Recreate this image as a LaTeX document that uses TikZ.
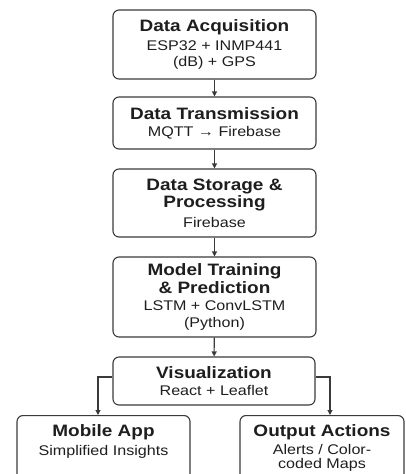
\documentclass[tikz,border=0pt]{standalone}
\usepackage{fontspec}
\setmainfont{Liberation Sans}[FakeStretch=1.15]
\usetikzlibrary{arrows.meta,positioning}
\definecolor{ink}{HTML}{1E1E1E}
\definecolor{edge}{HTML}{3A3A3A}
\newcommand{\ttl}{\fontsize{16.5}{18}\selectfont\bfseries}
\newcommand{\sbt}{\fontsize{14}{16}\selectfont\mdseries}
\begin{document}
\begin{tikzpicture}[x=1pt,y=-1pt,
  box/.style={draw=edge,line width=1.1pt,rounded corners=6pt,fill=white,
    text=ink,align=center,inner sep=0pt,minimum width=203pt},
  arr/.style={draw=edge,line width=1.1pt,-{Triangle[length=5pt,width=5pt]}}]
\useasboundingbox (0,0) rectangle (406,474);
\clip (0,0) rectangle (406,474);
\node[box,minimum height=69pt] (b1) at (214.5,44.5)
  {\ttl Data Acquisition\\[5pt] \sbt ESP32 + INMP441\\[4pt] \sbt (dB) + GPS};
\node[box,minimum height=52pt] (b2) at (214.5,123)
  {\ttl Data Transmission\\[5pt] \sbt MQTT → Firebase};
\node[box,minimum height=68pt] (b3) at (214.5,203)
  {\ttl Data Storage \&\\[1pt] \ttl Processing\\[5pt] \sbt Firebase};
\node[box,minimum height=80pt] (b4) at (214.5,297)
  {\ttl Model Training\\[1pt] \ttl \& Prediction\\[5pt] \sbt LSTM + ConvLSTM\\[5pt] \sbt (Python)};
\node[box,minimum width=202pt,minimum height=48pt] (b5) at (214,381)
  {\ttl Visualization\\[5pt] \sbt React + Leaflet};
\node[box,minimum width=173pt,minimum height=80pt,anchor=north] (mob) at (103.5,415) {};
\node[text=ink,align=center,anchor=north,inner sep=0pt] (mobt) at ([yshift=-9pt]mob.north)
  {\ttl Mobile App\\[5pt] \sbt Simplified Insights};
\node[box,minimum width=164pt,minimum height=80pt,anchor=north] (out) at (322,415) {};
\node[text=ink,align=center,anchor=north,inner sep=0pt] (outt) at ([yshift=-9pt]out.north)
  {\ttl Output Actions\\[4pt] \sbt Alerts / Color-\\[2pt] \sbt coded Maps};
\draw[arr] (b1) -- (b2);
\draw[arr] (b2) -- (b3);
\draw[arr] (b3) -- (b4);
\draw[arr] (b4) -- (b5);
\draw[arr] ([yshift=4pt]b5.west) -| ([xshift=-5.5pt]mob.north);
\draw[arr] ([yshift=4pt]b5.east) -| ([xshift=8pt]out.north);
\end{tikzpicture}
\end{document}
